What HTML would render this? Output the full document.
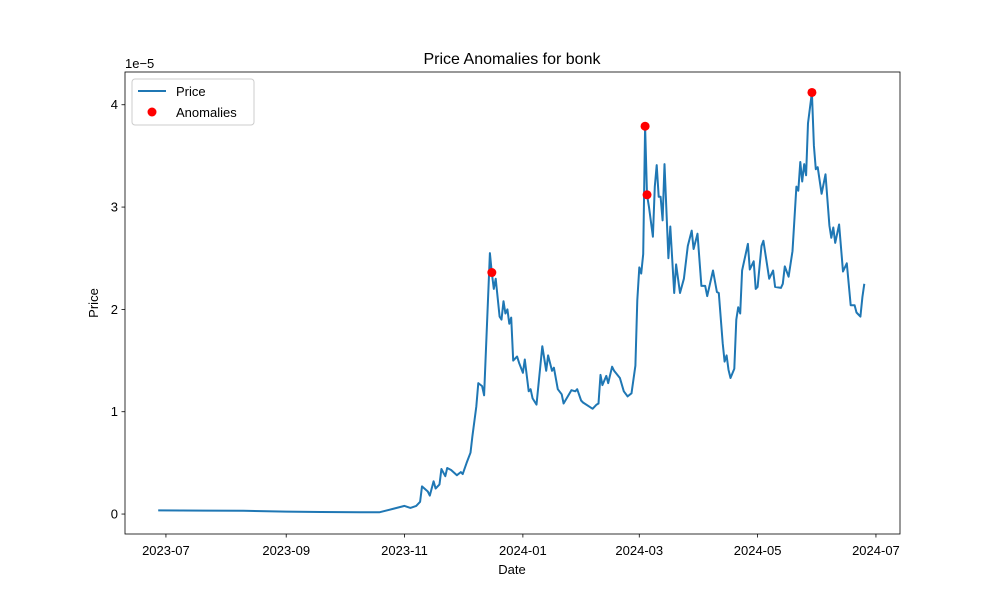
<!DOCTYPE html>
<html><head><meta charset="utf-8"><style>
body{margin:0;background:#fff;}
svg text{font-family:"Liberation Sans","DejaVu Sans",sans-serif;fill:#000;}
</style></head><body>
<svg id="chart" width="1000" height="600" xmlns="http://www.w3.org/2000/svg"></svg>
<script>
// days since 2023-07-01
const days = [-4,20,40,62,80,100,110,117,123,126,129,131,132,135,136,138,139,141,142,144,145,147,150,152,153,155,157,158,160,161,163,164,167,168,169,170,172,173,174,175,176,177,178,179,181,182,184,185,187,188,189,191,194,196,197,199,200,202,204,205,209,211,212,214,215,219,220,222,223,224,225,227,228,230,231,234,236,238,240,242,243,244,245,246,247,248,249,251,252,253,254,255,256,257,259,260,262,263,265,267,269,271,272,274,276,278,279,282,284,285,287,288,289,290,291,293,294,295,296,297,300,301,303,304,305,307,308,311,313,314,317,318,319,321,323,325,326,327,328,329,330,331,333,334,335,336,338,340,342,343,344,345,347,349,351,353,355,356,358,359,360];
// price in units of 1e-5
const prices = [0.036,0.034,0.032,0.024,0.02,0.018,0.017,0.05,0.08,0.06,0.08,0.12,0.27,0.22,0.18,0.32,0.25,0.29,0.44,0.37,0.45,0.43,0.38,0.41,0.39,0.5,0.6,0.76,1.05,1.28,1.25,1.16,2.55,2.36,2.2,2.3,1.93,1.9,2.08,1.96,2.0,1.86,1.92,1.5,1.54,1.48,1.38,1.51,1.2,1.22,1.13,1.07,1.64,1.4,1.55,1.4,1.43,1.22,1.17,1.08,1.21,1.2,1.22,1.11,1.09,1.04,1.03,1.07,1.08,1.36,1.26,1.35,1.28,1.44,1.4,1.33,1.2,1.15,1.18,1.45,2.09,2.41,2.35,2.54,3.79,3.12,3.0,2.71,3.2,3.41,3.1,3.1,2.87,3.42,2.5,2.81,2.16,2.44,2.16,2.3,2.62,2.77,2.59,2.74,2.23,2.23,2.13,2.38,2.17,2.16,1.67,1.49,1.55,1.41,1.33,1.42,1.9,2.02,1.96,2.38,2.64,2.39,2.47,2.2,2.22,2.62,2.67,2.3,2.38,2.22,2.21,2.25,2.42,2.32,2.57,3.2,3.16,3.44,3.25,3.42,3.31,3.82,4.12,3.6,3.37,3.39,3.13,3.32,2.82,2.7,2.8,2.65,2.83,2.37,2.45,2.04,2.04,1.97,1.93,2.12,2.25];
const anomalyDays = [168,247,248,333];
const anomalyPrices = [2.36,3.79,3.12,4.12];
const yTicks = [0,1,2,3,4];
const xTickLabels = ["2023-07","2023-09","2023-11","2024-01","2024-03","2024-05","2024-07"];
const xTickDays = [0,62,123,184,244,305,366];

const svg = document.getElementById('chart');
const NS = 'http://www.w3.org/2000/svg';
const L=125,R=900,T=72,B=534;
const xMin=-21.1,xMax=378.4,yMin=-0.195,yMax=4.32;
const xs = d => L+(d-xMin)/(xMax-xMin)*(R-L);
const ys = v => B-(v-yMin)/(yMax-yMin)*(B-T);
function mk(tag,attrs,parent){const e=document.createElementNS(NS,tag);for(const k in attrs)e.setAttribute(k,attrs[k]);(parent||svg).appendChild(e);return e;}

let t=mk('text',{x:512,y:64,'text-anchor':'middle','font-size':16});t.textContent='Price Anomalies for bonk';



// line
let d='';
days.forEach((dd,i)=>{d+=(i?'L':'M')+xs(dd).toFixed(1)+','+ys(prices[i]).toFixed(1);});
const line=mk('path',{d:d,fill:'none',stroke:'#1f77b4','stroke-width':2,'stroke-linejoin':'round'});



anomalyDays.forEach((dd,i)=>{
  const c=mk('circle',{cx:xs(dd),cy:ys(anomalyPrices[i]),r:4.5,fill:'red'});
  
  
});

const frame=mk('rect',{x:L,y:T,width:R-L,height:B-T,fill:'none',stroke:'#000','stroke-width':0.8});



yTicks.forEach(v=>{
  const y=ys(v);
  mk('line',{x1:L-3.5,x2:L,y1:y,y2:y,stroke:'#000','stroke-width':0.8});
  const tx=mk('text',{x:L-7,y:y+4.5,'text-anchor':'end','font-size':13});tx.textContent=v;
  
  
});
xTickDays.forEach((dd,i)=>{
  const x=xs(dd);
  mk('line',{x1:x,x2:x,y1:B,y2:B+3.5,stroke:'#000','stroke-width':0.8});
  const tx=mk('text',{x:x,y:B+21,'text-anchor':'middle','font-size':13});tx.textContent=xTickLabels[i];
  
  
});
t=mk('text',{x:L,y:68,'font-size':13});t.textContent='1e\u22125';


t=mk('text',{x:512,y:574,'text-anchor':'middle','font-size':13});t.textContent='Date';


t=mk('text',{x:98,y:303,'text-anchor':'middle','font-size':13,transform:'rotate(-90 98 303)'});t.textContent='Price';



// legend
const lg=mk('g',{});


mk('rect',{x:132,y:79,width:122,height:46,rx:3,fill:'#fff',stroke:'#ccc','stroke-width':1},lg);
mk('line',{x1:138,x2:166,y1:91,y2:91,stroke:'#1f77b4','stroke-width':2},lg);
t=mk('text',{x:176,y:96,'font-size':13},lg);t.textContent='Price';


mk('circle',{cx:152,cy:112,r:4.5,fill:'red'},lg);
t=mk('text',{x:176,y:117,'font-size':13},lg);t.textContent='Anomalies';


</script>
</body></html>
